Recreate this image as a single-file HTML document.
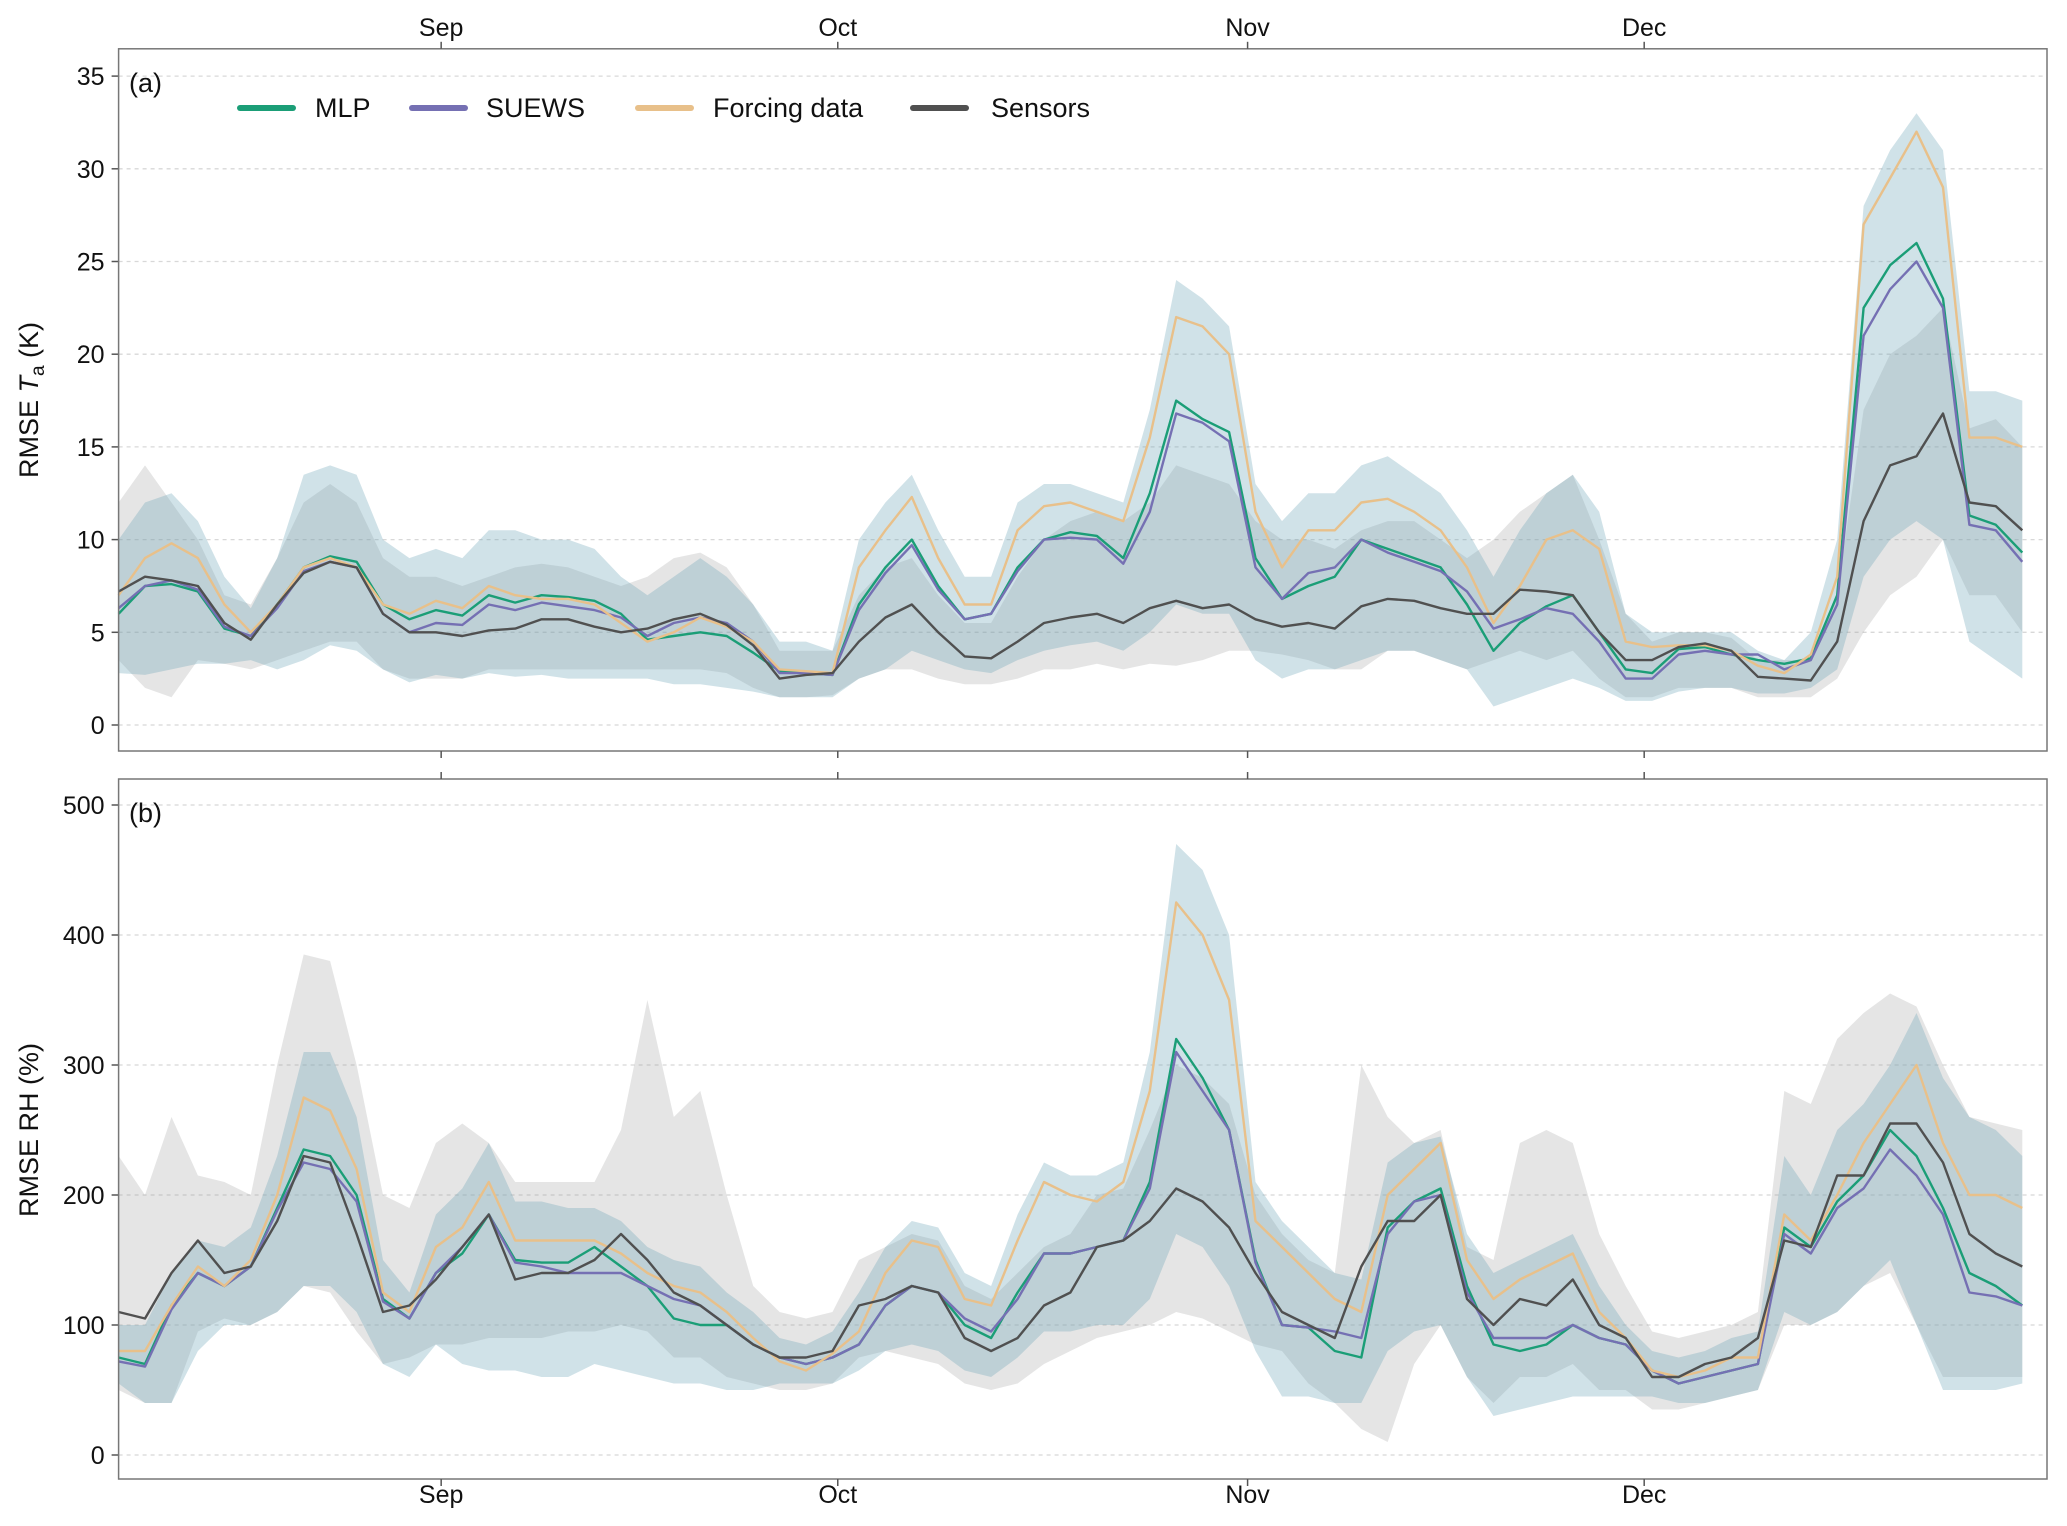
<!DOCTYPE html>
<html><head><meta charset="utf-8"><style>
body{margin:0;background:#fff;}
svg{display:block;font-family:"Liberation Sans",Arial,sans-serif;}
</style></head><body>
<svg id="chart" width="2067" height="1526" viewBox="0 0 2067 1526" xmlns="http://www.w3.org/2000/svg"></svg>
<script>
// x categories: days since Aug 7.6 (step 2 days)
const days = Array.from({length:73},(_,k)=>2*k);
const monthLabels = ["Sep","Oct","Nov","Dec"];
const monthDays = [24.4,54.4,85.4,115.4];
const ticksA = [0,5,10,15,20,25,30,35];
const ticksB = [0,100,200,300,400,500];

const mlpA=[6.0,7.5,7.6,7.2,5.2,4.8,6.5,8.5,9.1,8.8,6.5,5.7,6.2,5.9,7.0,6.6,7.0,6.9,6.7,6.0,4.6,4.8,5.0,4.8,3.9,2.9,2.8,2.7,6.5,8.5,10.0,7.5,5.7,6.0,8.5,10.0,10.4,10.2,9.0,12.5,17.5,16.5,15.8,9.0,6.8,7.5,8.0,10.0,9.5,9.0,8.5,6.5,4.0,5.5,6.4,7.0,5.0,3.0,2.8,4.1,4.2,3.8,3.5,3.3,3.6,7.0,22.5,24.8,26.0,23.0,11.3,10.8,9.3];
const suewsA=[6.3,7.5,7.8,7.3,5.3,4.8,6.3,8.3,8.8,8.5,6.0,5.0,5.5,5.4,6.5,6.2,6.6,6.4,6.2,5.8,4.8,5.5,5.8,5.5,4.5,2.8,2.8,2.7,6.2,8.2,9.7,7.3,5.7,6.0,8.3,10.0,10.1,10.0,8.7,11.5,16.8,16.3,15.3,8.5,6.8,8.2,8.5,10.0,9.3,8.8,8.3,7.2,5.2,5.7,6.3,6.0,4.5,2.5,2.5,3.8,4.0,3.8,3.8,3.0,3.5,6.5,21.0,23.5,25.0,22.5,10.8,10.5,8.8];
const forcingA=[7.0,9.0,9.8,9.0,6.5,5.0,6.5,8.5,9.0,8.5,6.5,6.0,6.7,6.3,7.5,7.0,6.8,6.8,6.5,5.5,4.5,5.0,5.8,5.3,4.5,3.0,2.9,2.8,8.5,10.5,12.3,9.0,6.5,6.5,10.5,11.8,12.0,11.5,11.0,15.5,22.0,21.5,20.0,11.5,8.5,10.5,10.5,12.0,12.2,11.5,10.5,8.5,5.5,7.5,10.0,10.5,9.5,4.5,4.2,4.3,4.3,4.0,3.2,2.8,3.8,8.0,27.0,29.5,32.0,29.0,15.5,15.5,15.0];
const sensorsA=[7.2,8.0,7.8,7.5,5.5,4.6,6.5,8.2,8.8,8.5,6.0,5.0,5.0,4.8,5.1,5.2,5.7,5.7,5.3,5.0,5.2,5.7,6.0,5.4,4.3,2.5,2.7,2.8,4.5,5.8,6.5,5.0,3.7,3.6,4.5,5.5,5.8,6.0,5.5,6.3,6.7,6.3,6.5,5.7,5.3,5.5,5.2,6.4,6.8,6.7,6.3,6.0,6.0,7.3,7.2,7.0,5.0,3.5,3.5,4.2,4.4,4.0,2.6,2.5,2.4,4.5,11.0,14.0,14.5,16.8,12.0,11.8,10.5];
const modelHiA=[10,12,12.5,11,8,6.3,9,13.5,14,13.5,10,9,9.5,9,10.5,10.5,10,10,9.5,8,7,8,9,8,6.5,4.5,4.5,4,10,12,13.5,10.5,8,8,12,13,13,12.5,12,17,24,23,21.5,13,11,12.5,12.5,14,14.5,13.5,12.5,10.5,8,10.5,12.5,13.5,11.5,6,5,5,5,5,4,3.5,5,10,28,31,33,31,18,18,17.5];
const modelLoA=[2.8,2.7,3,3.3,3.3,3.5,3,3.5,4.3,4,3,2.3,2.7,2.5,2.8,2.6,2.7,2.5,2.5,2.5,2.5,2.2,2.2,2,1.8,1.5,1.5,1.5,2.5,3,4,3.5,3,2.8,3.5,4,4.3,4.5,4,5,6.5,6,6,3.5,2.5,3,3,3.5,4,4,3.5,3,1,1.5,2,2.5,2,1.3,1.3,1.8,2,2,1.7,1.7,2,3,8,10,11,10,4.5,3.5,2.5];
const sensHiA=[12,14,12,10,7,6.5,9,12,13,12,9,8,8,7.5,8,8.5,8.7,8.5,8,7.5,8,9,9.3,8.5,6.5,4,4,4,7,8.5,9,7,5.5,5.5,8,10,11,11.5,11,12,14,13.5,13,11,10,10,9.5,10.5,11,11,10,9,10,11.5,12.5,13.5,10,6,4.5,5,5,4.7,3.5,3.5,3.5,7,17,20,21,22.5,16,16.5,15];
const sensLoA=[3.5,2,1.5,3.5,3.3,3,3.5,4,4.5,4.5,3,2.5,2.5,2.5,3,3,3,3,3,3,3,3,3,2.8,2,1.5,1.5,1.6,2.5,3,3,2.5,2.2,2.2,2.5,3,3,3.3,3,3.3,3.2,3.5,4,4,3.8,3.5,3,3,4,4,3.5,3,3.5,4,3.5,4,2.5,1.5,1.5,2,2,2,1.5,1.5,1.5,2.5,5,7,8,10,7,7,5];

const mlpB=[75,70,115,140,130,145,190,235,230,200,120,105,140,155,185,150,148,148,160,145,130,105,100,100,85,75,70,75,85,115,130,125,100,90,125,155,155,160,165,210,320,290,250,150,100,98,80,75,175,195,205,130,85,80,85,100,90,85,65,55,60,65,70,175,160,195,215,250,230,190,140,130,115];
const suewsB=[72,68,112,140,130,145,188,225,220,195,118,105,140,160,185,148,145,140,140,140,130,120,115,100,85,75,70,75,85,115,130,125,105,95,120,155,155,160,165,205,310,280,250,148,100,98,95,90,170,195,200,125,90,90,90,100,90,85,65,55,60,65,70,170,155,190,205,235,215,185,125,122,115];
const forcingB=[80,80,115,145,130,150,200,275,265,220,125,110,160,175,210,165,165,165,165,155,140,130,125,110,90,72,65,78,95,140,165,160,120,115,165,210,200,195,210,280,425,400,350,180,160,140,120,110,200,220,240,150,120,135,145,155,110,90,65,60,65,75,75,185,165,200,240,270,300,240,200,200,190];
const sensorsB=[110,105,140,165,140,145,180,230,225,170,110,115,135,160,185,135,140,140,150,170,150,125,115,100,85,75,75,80,115,120,130,125,90,80,90,115,125,160,165,180,205,195,175,140,110,100,90,145,180,180,200,120,100,120,115,135,100,90,60,60,70,75,90,165,160,215,215,255,255,225,170,155,145];
const modelHiB=[100,100,140,165,160,175,230,310,310,260,150,125,185,205,240,195,195,190,190,180,160,150,145,125,110,90,85,95,125,160,180,175,140,130,185,225,215,215,225,310,470,450,400,210,180,160,140,135,225,240,245,170,140,150,160,170,130,100,80,75,80,90,95,230,200,250,270,300,340,290,260,250,230];
const modelLoB=[55,40,40,80,100,100,110,130,130,110,70,60,85,70,65,65,60,60,70,65,60,55,55,50,50,55,55,55,65,80,85,80,65,60,75,95,95,100,100,120,170,160,130,80,45,45,40,40,80,95,100,60,30,35,40,45,45,45,45,40,40,45,50,110,100,110,130,150,100,50,50,50,55];
const sensHiB=[230,200,260,215,210,200,300,385,380,300,200,190,240,255,240,210,210,210,210,250,350,260,280,200,130,110,105,110,150,160,170,165,130,120,140,160,170,200,205,250,300,290,270,200,170,150,140,300,260,240,250,160,150,240,250,240,170,130,95,90,95,100,110,280,270,320,340,355,345,300,260,255,250];
const sensLoB=[50,40,40,95,105,100,110,130,125,95,70,75,85,85,90,90,90,95,95,100,95,75,75,60,55,50,50,55,75,80,75,70,55,50,55,70,80,90,95,100,110,105,95,85,80,55,40,20,10,70,100,60,40,60,60,70,50,50,35,35,40,45,50,100,100,110,130,140,100,60,60,60,60];

const NS="http://www.w3.org/2000/svg";
const svg=document.getElementById('chart');
const X0=118.6, X1=2047, PXD=13.22;
function xs(d){return X0+d*PXD;}
function el(tag,attrs,parent){const e=document.createElementNS(NS,tag);for(const k in attrs)e.setAttribute(k,attrs[k]);(parent||svg).appendChild(e);return e;}

const panels=[
 {top:48.8,bot:751,y0:725,ypu:92.7/5,ticks:ticksA,label:"(a)",name:"panel-a",
  series:[mlpA,suewsA,forcingA,sensorsA],mhi:modelHiA,mlo:modelLoA,shi:sensHiA,slo:sensLoA},
 {top:779,bot:1479,y0:1455,ypu:1.30,ticks:ticksB,label:"(b)",name:"panel-b",
  series:[mlpB,suewsB,forcingB,sensorsB],mhi:modelHiB,mlo:modelLoB,shi:sensHiB,slo:sensLoB}
];
const colors=["#1b9e77","#7570b3","#e8c08a","#505050"];
const snames=["mlp","suews","forcing","sensors"];

panels.forEach((p,pi)=>{
  const g=el('g',{});
  
  
  const ys=v=>p.y0-v*p.ypu;
  // grid
  p.ticks.forEach(t=>{
    const gl=el('line',{x1:X0,x2:X1,y1:ys(t),y2:ys(t),stroke:"#d8d8d8","stroke-width":1.3,"stroke-dasharray":"4,4"},g);
    
    
    const tk=el('line',{x1:X0-7,x2:X0,y1:ys(t),y2:ys(t),stroke:"#555","stroke-width":1.5},g);
    
    
    const tl=el('text',{x:X0-14,y:ys(t)+9,"text-anchor":"end","font-size":25,fill:"#111"},g);
    tl.textContent=t;
    
    
  });
  function band(hi,lo,fill,nm){
    let d="M"+days.map((dd,i)=>xs(dd).toFixed(1)+","+ys(hi[i]).toFixed(1)).join("L");
    for(let i=days.length-1;i>=0;i--) d+="L"+xs(days[i]).toFixed(1)+","+ys(lo[i]).toFixed(1);
    const b=el('path',{d:d+"Z",fill:fill,stroke:"none"},g);
    
    
  }
  band(p.shi,p.slo,"rgba(150,150,150,0.25)","sensors-band");
  band(p.mhi,p.mlo,"rgba(110,165,185,0.32)","model-band");
  p.series.forEach((s,si)=>{
    const d="M"+days.map((dd,i)=>xs(dd).toFixed(1)+","+ys(s[i]).toFixed(1)).join("L");
    const l=el('path',{d:d,fill:"none",stroke:colors[si],"stroke-width":2.4,"stroke-linejoin":"round"},g);
    
    
  });
  const fr=el('rect',{x:X0,y:p.top,width:X1-X0,height:p.bot-p.top,fill:"none",stroke:"#777","stroke-width":1.5},g);
  
  
  const pl=el('text',{x:129,y:p.top+43,"font-size":27,fill:"#111"},g);
  pl.textContent=p.label;
  
  
  monthDays.forEach((md,mi)=>{
    const x=xs(md);
    const t1=el('line',{x1:x,x2:x,y1:p.top-7,y2:p.top,stroke:"#555","stroke-width":1.5},g);
    
    
    const t2=el('line',{x1:x,x2:x,y1:p.bot,y2:p.bot+7,stroke:"#555","stroke-width":1.5},g);
    
    
    if(pi===0){
      const ml=el('text',{x:x,y:36,"text-anchor":"middle","font-size":25,fill:"#111"},g);
      ml.textContent=monthLabels[mi];
      
      
    } else {
      const ml=el('text',{x:x,y:1503,"text-anchor":"middle","font-size":25,fill:"#111"},g);
      ml.textContent=monthLabels[mi];
      
      
    }
  });
});
// y titles
const ta=el('text',{transform:"translate(38,400) rotate(-90)","text-anchor":"middle","font-size":27,fill:"#111"});
ta.innerHTML='RMSE <tspan font-style="italic">T</tspan><tspan font-size="19" dy="6">a</tspan><tspan dy="-6"> (K)</tspan>';


const tb=el('text',{transform:"translate(38,1130) rotate(-90)","text-anchor":"middle","font-size":27,fill:"#111"});
tb.textContent='RMSE RH (%)';


// legend
const legX=[[240,315],[412,486],[638,713],[913,991]];
const legT=["MLP","SUEWS","Forcing data","Sensors"];
legT.forEach((t,i)=>{
  const lg=el('g',{});
  
  
  el('line',{x1:legX[i][0],x2:legX[i][0]+53,y1:108,y2:108,stroke:colors[i],"stroke-width":6,"stroke-linecap":"round"},lg);
  const tx=el('text',{x:legX[i][1],y:117,"font-size":27,fill:"#111"},lg);
  tx.textContent=t;
});
</script>
</body></html>
